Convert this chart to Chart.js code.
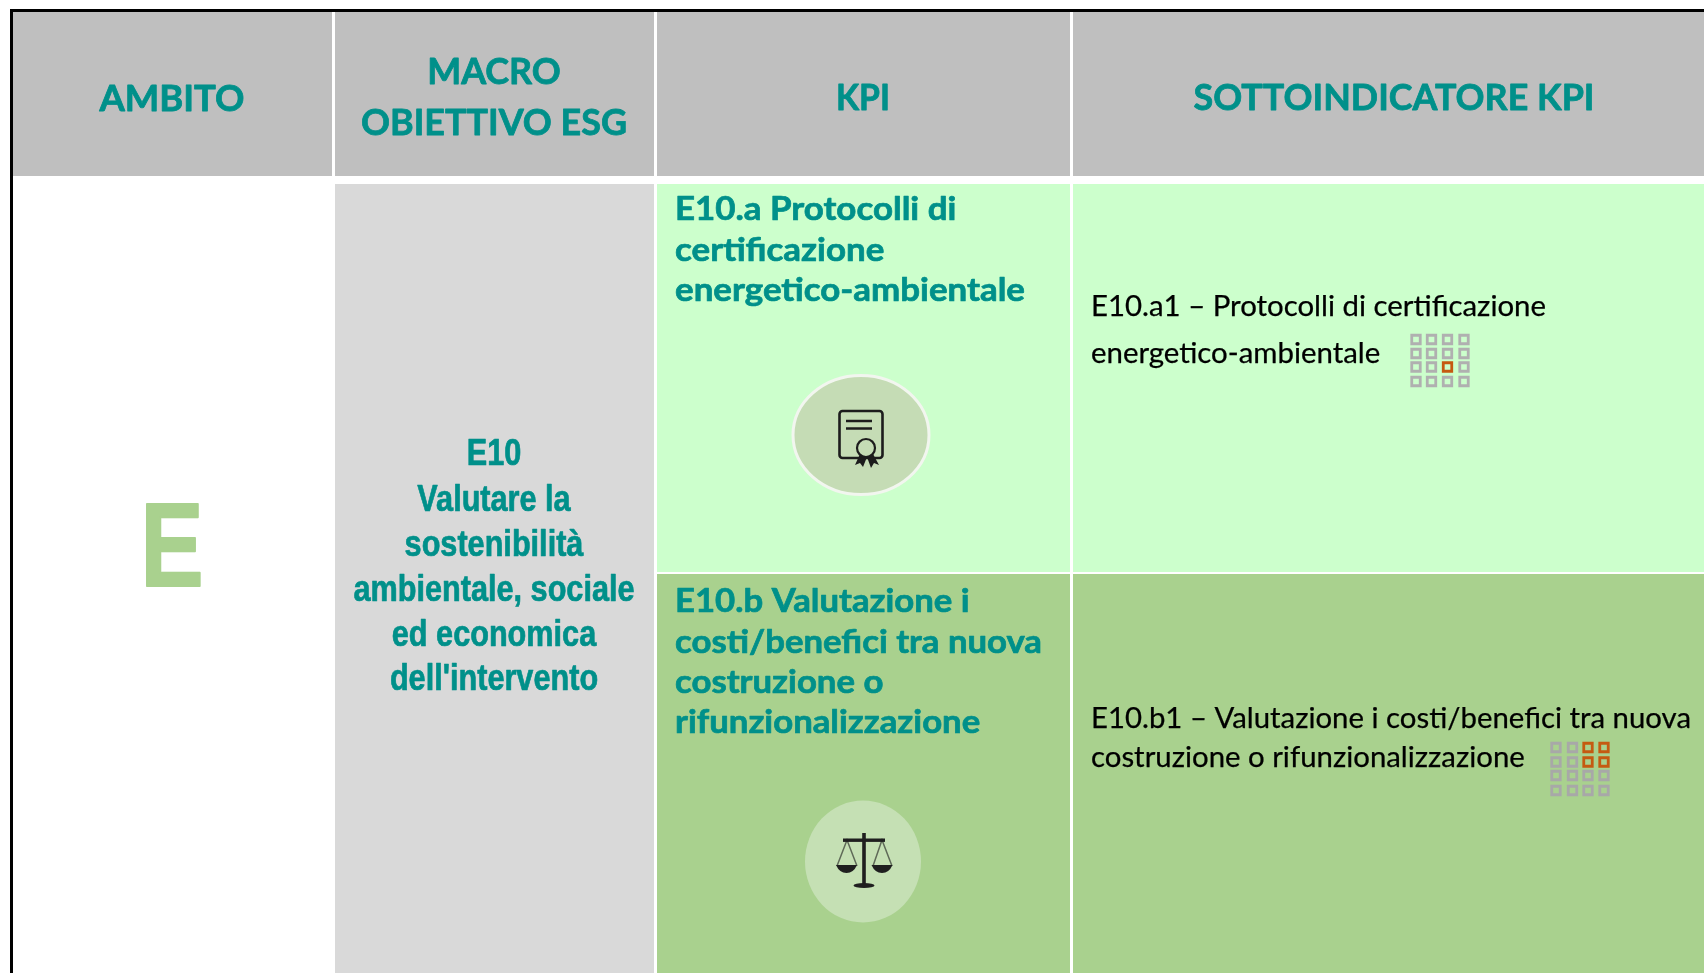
<!DOCTYPE html>
<html lang="it">
<head>
<meta charset="utf-8">
<title>E10 - KPI</title>
<style>
  html, body { margin: 0; padding: 0; background: #fff; }
  canvas { display: block; }
</style>
<script src="https://cdn.jsdelivr.net/npm/chart.js@4/dist/chart.umd.min.js"></script>
</head>
<body>
<canvas id="tableChart" width="1704" height="973"></canvas>
<script>
// table content
const ambitoHeader = ["AMBITO"];
const macroHeader = ["MACRO", "OBIETTIVO ESG"];
const kpiHeader = ["KPI"];
const subHeader = ["SOTTOINDICATORE KPI"];
const ambitoLabel = ["E"];
const macroLines = ["E10", "Valutare la", "sostenibilità", "ambientale, sociale", "ed economica", "dell'intervento"];
const kpiALines = ["E10.a Protocolli di", "certificazione", "energetico-ambientale"];
const kpiBLines = ["E10.b Valutazione i", "costi/benefici tra nuova", "costruzione o", "rifunzionalizzazione"];
const subALines = ["E10.a1 – Protocolli di certificazione", "energetico-ambientale"];
const subBLines = ["E10.b1 – Valutazione i costi/benefici tra nuova", "costruzione o rifunzionalizzazione"];

// mini 4x4 matrices, 1 = highlighted square
const matrixA = [
  [0, 0, 0, 0],
  [0, 0, 0, 0],
  [0, 0, 1, 0],
  [0, 0, 0, 0]
];
const matrixB = [
  [0, 0, 1, 1],
  [0, 0, 1, 1],
  [0, 0, 0, 0],
  [0, 0, 0, 0]
];

const TEAL = "#00908a";
const GREEN = "#a9d18e";

// cell layout, in canvas units
const cellBoxes = [
  { x0: 10, x1: 13, y0: 9, y1: 973, color: "#000000" },
  { x0: 10, x1: 1704, y0: 9, y1: 12, color: "#000000" },
  { x0: 13, x1: 332, y0: 12, y1: 176, color: "#bfbfbf" },
  { x0: 335, x1: 654, y0: 12, y1: 176, color: "#bfbfbf" },
  { x0: 657, x1: 1070, y0: 12, y1: 176, color: "#bfbfbf" },
  { x0: 1073, x1: 1704, y0: 12, y1: 176, color: "#bfbfbf" },
  { x0: 335, x1: 654, y0: 184, y1: 973, color: "#d9d9d9" },
  { x0: 657, x1: 1070, y0: 184, y1: 572, color: "#ccffcc" },
  { x0: 1073, x1: 1704, y0: 184, y1: 572, color: "#ccffcc" },
  { x0: 657, x1: 1070, y0: 574, y1: 973, color: GREEN },
  { x0: 1073, x1: 1704, y0: 574, y1: 973, color: GREEN }
];

function matrixPoints(matrix, xs, ys, wanted) {
  const pts = [];
  matrix.forEach((row, r) => {
    row.forEach((v, c) => {
      if (v === wanted) pts.push({ x: xs[c], y: ys[r] });
    });
  });
  return pts;
}

const matrixAX = [1416, 1431.5, 1447.5, 1464];
const matrixAY = [339.5, 353.5, 367, 381.5];
const matrixBX = [1556, 1572.5, 1588, 1604];
const matrixBY = [747.5, 762, 775.5, 790.5];

function squares(points, color) {
  return {
    type: "scatter",
    order: 0,
    data: points,
    pointStyle: "rect",
    pointRadius: 6,
    pointBorderWidth: 2.8,
    pointBackgroundColor: "rgba(0,0,0,0)",
    pointBorderColor: color
  };
}

const datasets = cellBoxes.map(c => ({
  type: "bar",
  order: 1,
  stack: "cell",
  barThickness: c.x1 - c.x0,
  backgroundColor: c.color,
  borderWidth: 0,
  inflateAmount: 0,
  data: [{ x: (c.x0 + c.x1) / 2, y: [c.y0, c.y1] }]
}));
datasets.push(squares(matrixPoints(matrixA, matrixAX, matrixAY, 0), "#b0b0b0"));
datasets.push(squares(matrixPoints(matrixA, matrixAX, matrixAY, 1), "#c55a11"));
datasets.push(squares(matrixPoints(matrixB, matrixBX, matrixBY, 0), "#a8a8a8"));
datasets.push(squares(matrixPoints(matrixB, matrixBX, matrixBY, 1), "#c55a11"));

// text draw: fitWidth is a measured line from the reference, the font gets squeezed to it
function drawLines(ctx, lines, style) {
  ctx.save();
  ctx.font = style.font;
  ctx.fillStyle = style.color;
  ctx.strokeStyle = style.color;
  ctx.lineJoin = "round";
  ctx.textBaseline = "alphabetic";
  ctx.textAlign = "left";
  const fit = style.fitWidth ? style.fitWidth / ctx.measureText(lines[style.fitLine || 0]).width : 1;
  lines.forEach((line, i) => {
    const w = ctx.measureText(line).width * fit;
    const x = style.center ? style.x - w / 2 : style.x;
    ctx.save();
    ctx.translate(x, style.baselines[i]);
    ctx.scale(fit, 1);
    ctx.fillText(line, 0, 0);
    if (style.heavy) {
      ctx.lineWidth = style.heavy;
      ctx.strokeText(line, 0, 0);
    }
    ctx.restore();
  });
  ctx.restore();
}

function ellipse(ctx, cx, cy, rx, ry, fill, stroke, lw) {
  ctx.beginPath();
  ctx.ellipse(cx, cy, rx, ry, 0, 0, Math.PI * 2);
  ctx.fillStyle = fill;
  ctx.fill();
  if (stroke) {
    ctx.lineWidth = lw;
    ctx.strokeStyle = stroke;
    ctx.stroke();
  }
}

function drawCertificate(ctx) {
  const ink = "#1c1c1c";
  ellipse(ctx, 861, 435, 68, 59.5, "#c5dcb5", "#f2f6ef", 3);
  ctx.strokeStyle = ink;
  ctx.lineWidth = 2.6;
  ctx.beginPath();
  ctx.roundRect(839.5, 411, 43, 47, 3);
  ctx.stroke();
  ctx.lineWidth = 2.4;
  ctx.beginPath();
  ctx.moveTo(846, 421);
  ctx.lineTo(872, 421);
  ctx.moveTo(846, 428.5);
  ctx.lineTo(872, 428.5);
  ctx.stroke();
  // ribbon tails
  ctx.fillStyle = ink;
  ctx.beginPath();
  ctx.moveTo(860, 454);
  ctx.lineTo(855, 465);
  ctx.lineTo(860, 463);
  ctx.lineTo(863, 467);
  ctx.lineTo(867, 457);
  ctx.lineTo(871, 468);
  ctx.lineTo(874, 463);
  ctx.lineTo(879, 465);
  ctx.lineTo(873, 454);
  ctx.closePath();
  ctx.fill();
  ellipse(ctx, 866, 448, 9, 9, "#c5dcb5", ink, 2.2);
}

function drawScales(ctx) {
  const ink = "#1f1f1f";
  ellipse(ctx, 863, 861.5, 58, 61, "#c5e0b4");
  ctx.strokeStyle = "#5f6a58";
  ctx.lineWidth = 1.5;
  ctx.beginPath();
  ctx.moveTo(837, 866);
  ctx.lineTo(847, 840);
  ctx.lineTo(857, 866);
  ctx.moveTo(873, 866);
  ctx.lineTo(882, 840);
  ctx.lineTo(892, 866);
  ctx.stroke();
  ctx.fillStyle = ink;
  ctx.fillRect(843, 838.5, 42, 3.4);
  ctx.fillRect(862.2, 833, 3.6, 52);
  ctx.beginPath();
  ctx.ellipse(864, 885.5, 10.5, 2.4, 0, 0, Math.PI * 2);
  ctx.fill();
  [846.5, 882].forEach(cx => {
    ctx.beginPath();
    ctx.moveTo(cx - 10.5, 865);
    ctx.lineTo(cx + 10.5, 865);
    ctx.quadraticCurveTo(cx + 7, 873, cx, 873);
    ctx.quadraticCurveTo(cx - 7, 873, cx - 10.5, 865);
    ctx.fill();
  });
}

const tableTextPlugin = {
  id: "tableText",
  afterDatasetsDraw(chart) {
    const ctx = chart.ctx;
    const head = '700 37px Lato';
    drawLines(ctx, ambitoHeader, { font: head, color: TEAL, heavy: 0.8, center: true, x: 172, baselines: [111], fitWidth: 145 });
    drawLines(ctx, macroHeader, { font: head, color: TEAL, heavy: 0.8, center: true, x: 494, baselines: [84, 135], fitLine: 1, fitWidth: 266 });
    drawLines(ctx, kpiHeader, { font: head, color: TEAL, heavy: 0.8, center: true, x: 863, baselines: [110], fitWidth: 54 });
    drawLines(ctx, subHeader, { font: head, color: TEAL, heavy: 0.8, center: true, x: 1394, baselines: [110], fitWidth: 401 });

    drawLines(ctx, ambitoLabel, { font: '700 118px "Liberation Sans"', color: GREEN, heavy: 2, center: true, x: 172, baselines: [586], fitWidth: 63 });
    drawLines(ctx, macroLines, {
      font: '700 36px "Liberation Sans"', color: TEAL, heavy: 0.7, center: true, x: 494,
      baselines: [465, 510.5, 556, 601, 645.5, 690], fitLine: 3, fitWidth: 281
    });

    const kpi = '700 33px Lato';
    drawLines(ctx, kpiALines, { font: kpi, color: TEAL, heavy: 0.7, x: 675, baselines: [220, 260.5, 300.5], fitLine: 2, fitWidth: 350 });
    drawLines(ctx, kpiBLines, { font: kpi, color: TEAL, heavy: 0.7, x: 675, baselines: [612, 653, 693, 733], fitLine: 1, fitWidth: 367 });

    const sub = '400 28px Lato';
    drawLines(ctx, subALines, { font: sub, color: "#000", heavy: 0.25, x: 1091, baselines: [316, 363], fitLine: 0, fitWidth: 455 });
    drawLines(ctx, subBLines, { font: sub, color: "#000", heavy: 0.25, x: 1091, baselines: [727.5, 767], fitLine: 0, fitWidth: 600 });

    drawCertificate(ctx);
    drawScales(ctx);
  }
};

new Chart(document.getElementById("tableChart").getContext("2d"), {
  type: "bar",
  data: { datasets: datasets },
  plugins: [tableTextPlugin],
  options: {
    responsive: false,
    animation: false,
    layout: { padding: 0, autoPadding: false },
    plugins: { legend: { display: false }, tooltip: { enabled: false }, title: { display: false } },
    scales: {
      x: { type: "linear", min: 0, max: 1704, offset: false, display: false },
      y: { type: "linear", min: 0, max: 973, reverse: true, stacked: false, display: false }
    }
  }
});
</script>
</body>
</html>
